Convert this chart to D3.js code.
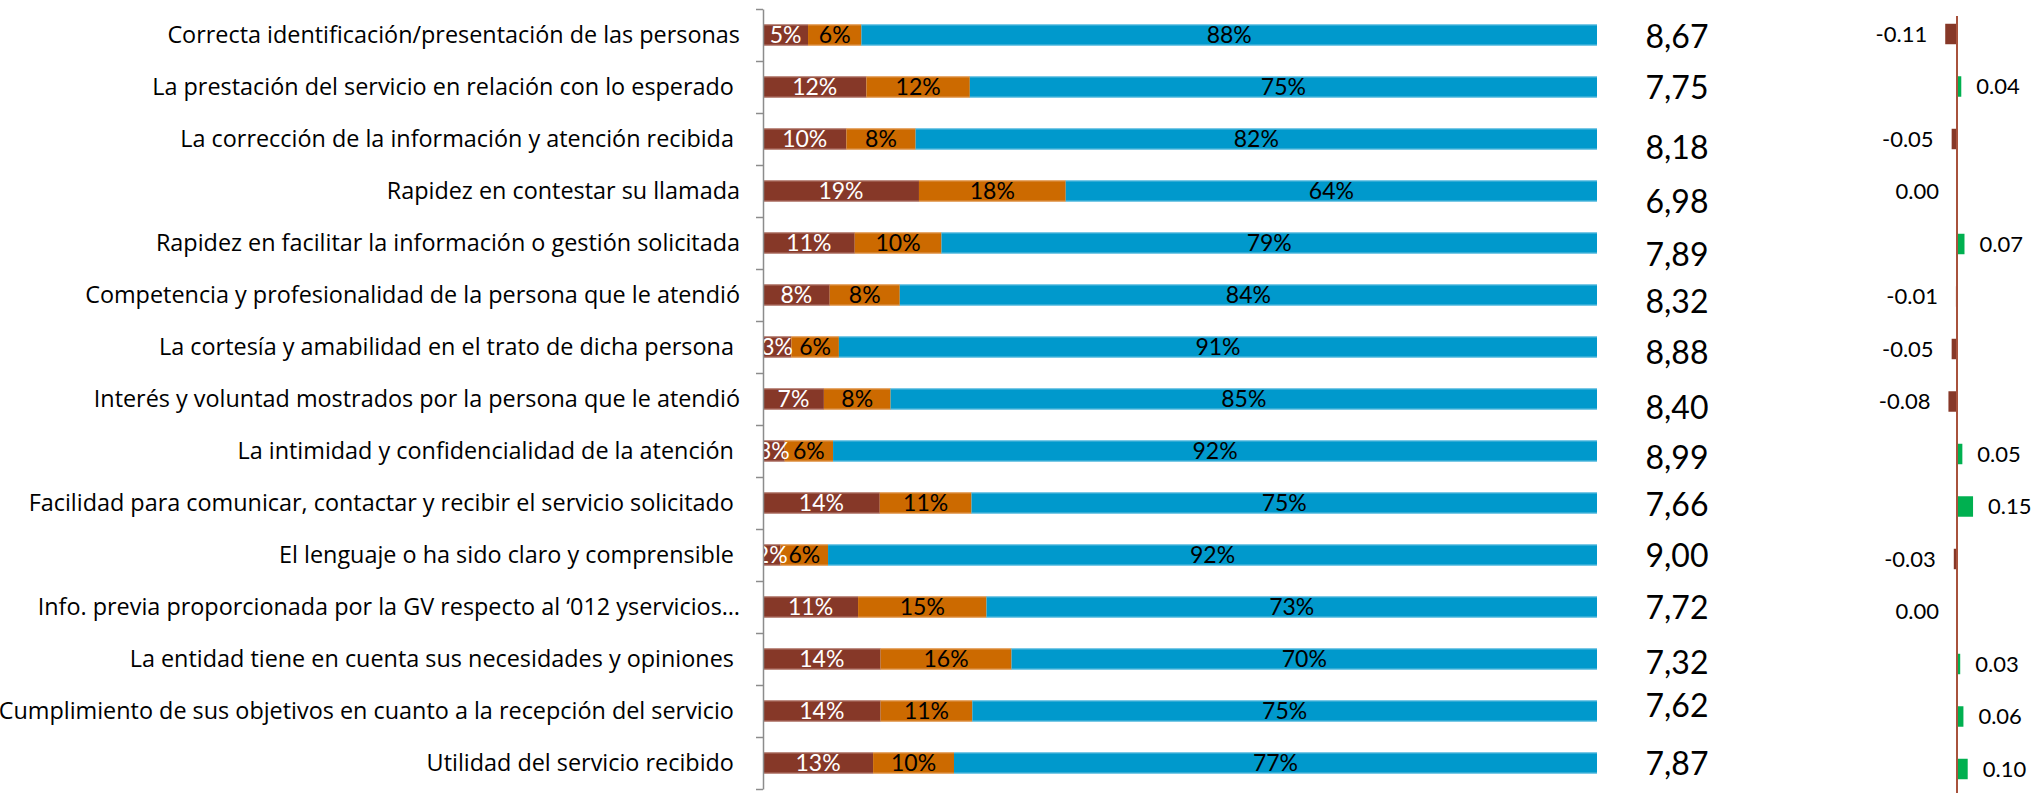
<!DOCTYPE html>
<html>
<head>
<meta charset="utf-8">
<script src="https://cdn.jsdelivr.net/npm/d3@7"></script>
<style>
  html, body { margin: 0; padding: 0; background: #ffffff; }
  svg { display: block; }
  text { font-family: Lato, "Open Sans", sans-serif; white-space: pre; }
  text.cat { font-family: "Open Sans", Lato, sans-serif; }
</style>
</head>
<body>
<svg id="chart" width="2039" height="793"></svg>
<script>
// Service attributes (one row each)
const categories = [
  "Correcta identificación/presentación de las personas",
  "La prestación del servicio en relación con lo esperado ",
  "La corrección de la información y atención recibida ",
  "Rapidez en contestar su llamada",
  "Rapidez en facilitar la información o gestión solicitada",
  "Competencia y profesionalidad de la persona que le atendió",
  "La cortesía y amabilidad en el trato de dicha persona ",
  "Interés y voluntad mostrados por la persona que le atendió",
  "La intimidad y confidencialidad de la atención ",
  "Facilidad para comunicar, contactar y recibir el servicio solicitado ",
  "El lenguaje o ha sido claro y comprensible ",
  "Info. previa proporcionada por la GV respecto al ‘012 yservicios…",
  "La entidad tiene en cuenta sus necesidades y opiniones ",
  "Cumplimiento de sus objetivos en cuanto a la recepción del servicio ",
  "Utilidad del servicio recibido "
];

// Share of answers per rating group (%)
const lowShare  = [5.4, 12.4, 10.0, 18.7, 11.0, 8.0, 3.4, 7.3, 2.6, 14.0, 2.1, 11.4, 14.1, 14.1, 13.2];
const midShare  = [6.4, 12.4,  8.3, 17.6, 10.4, 8.4, 5.7, 8.0, 5.8, 11.0, 5.7, 15.4, 15.7, 11.0,  9.7];
const highShare = [88.2, 75.2, 81.7, 63.7, 78.6, 83.6, 90.9, 84.7, 91.6, 75.0, 92.2, 73.2, 70.2, 74.9, 77.1];

// Mean score (0-10) and change versus previous wave
const meanScore = [8.67, 7.75, 8.18, 6.98, 7.89, 8.32, 8.88, 8.40, 8.99, 7.66, 9.00, 7.72, 7.32, 7.62, 7.87];
const scoreChange = [-0.11, 0.04, -0.05, 0.00, 0.07, -0.01, -0.05, -0.08, 0.05, 0.15, -0.03, 0.00, 0.03, 0.06, 0.10];

// Small vertical offsets of the score column (px)
const scoreShift = [1, 0, 8, 10, 11, 6, 5, 8, 6, 1, 0, 0, 3, -6, 0];

const seriesColors = ["#863828", "#CC6A00", "#0099CC"];
const seriesEdge = ["#c79a90", "#eab07a", "#8fd0ea"];
const labelColors = ["#ffffff", "#000000", "#000000"];

const svg = d3.select("#chart");

const rows = categories.map((c, i) => ({
  name: c, i,
  parts: [lowShare[i], midShare[i], highShare[i]],
  score: meanScore[i], change: scoreChange[i]
}));

// ---- Stacked 100% bars ----
const y = d3.scaleBand().domain(d3.range(categories.length))
  .range([9, 789]).paddingInner(0.59).paddingOuter(0.295);
const x = d3.scaleLinear().domain([0, 100]).range([763, 1597]);

const stack = d3.stack().keys([0, 1, 2]).value((d, k) => d.parts[k]);
const stacked = stack(rows);

svg.append("defs").append("clipPath").attr("id", "plotClip")
  .append("rect").attr("x", 763).attr("y", 0).attr("width", 900).attr("height", 793);

const layers = svg.append("g").selectAll("g").data(stacked).join("g")
  .attr("fill", (d, k) => seriesColors[k]);

layers.selectAll("rect").data(d => d).join("rect")
  .attr("x", d => x(d[0]))
  .attr("y", d => y(d.data.i))
  .attr("width", d => x(d[1]) - x(d[0]))
  .attr("height", y.bandwidth());

// thin light edge along the top and bottom of each bar
layers.each(function(layer, k) {
  const g = d3.select(this);
  ["top", "bottom"].forEach(side => {
    g.selectAll("line." + side).data(layer).join("line")
      .attr("class", side)
      .attr("x1", d => x(d[0]))
      .attr("x2", d => x(d[1]))
      .attr("y1", d => y(d.data.i) + (side === "top" ? 0.5 : y.bandwidth() - 0.5))
      .attr("y2", d => y(d.data.i) + (side === "top" ? 0.5 : y.bandwidth() - 0.5))
      .attr("stroke", seriesEdge[k]).attr("stroke-width", 1);
  });
});

const pctLabels = svg.append("g").attr("clip-path", "url(#plotClip)");
stacked.forEach((layer, k) => {
  pctLabels.selectAll(null).data(layer).join("text")
    .attr("x", d => (x(d[0]) + x(d[1])) / 2)
    .attr("y", d => y(d.data.i) + y.bandwidth() / 2)
    .attr("dy", "0.36em")
    .attr("text-anchor", "middle")
    .attr("font-size", 23)
    .attr("fill", labelColors[k])
    .text(d => Math.round(d[1] - d[0]) + "%");
});

// category axis with ticks between rows
const yEdge = d3.scaleLinear().domain([0, categories.length]).range([9, 789]);
const axis = svg.append("g").attr("transform", "translate(763,0)")
  .call(d3.axisLeft(yEdge).tickValues(d3.range(categories.length + 1))
    .tickSize(7).tickSizeOuter(0).tickFormat(""));
axis.selectAll("path, line").attr("stroke", "#8c8c8c").attr("stroke-width", 1.5);

svg.append("g").selectAll("text").data(rows).join("text")
  .attr("class", "cat")
  .attr("x", 740)
  .attr("y", d => y(d.i) + y.bandwidth() / 2)
  .attr("dy", "0.36em")
  .attr("text-anchor", "end")
  .attr("font-size", 23.4)
  .attr("fill", "#000")
  .text(d => d.name);

// ---- Mean score column ----
const esLocale = d3.formatLocale({decimal: ",", thousands: ".", grouping: [3], currency: ["", " €"]});
const fmtScore = esLocale.format(".2f");
svg.append("g").selectAll("text").data(rows).join("text")
  .attr("x", 1677)
  .attr("y", d => y(d.i) + y.bandwidth() / 2 + scoreShift[d.i])
  .attr("dy", "0.36em")
  .attr("text-anchor", "middle")
  .attr("font-size", 32)
  .attr("fill", "#000")
  .text(d => fmtScore(d.score));

// ---- Change versus previous wave ----
const y2 = d3.scaleBand().domain(d3.range(categories.length))
  .range([7.75, 795.25]).paddingInner(0.61).paddingOuter(0.305);
const x2 = d3.scaleLinear().domain([-0.2, 0.2]).range([1957 - 21.4, 1957 + 21.4]);
const fmtChange = d3.formatLocale({decimal: ".", thousands: ",", grouping: [3], currency: ["", ""], minus: "-"}).format(".2f");

svg.append("g").selectAll("rect").data(rows).join("rect")
  .attr("x", d => x2(Math.min(0, d.change)))
  .attr("y", d => y2(d.i))
  .attr("width", d => Math.abs(x2(d.change) - x2(0)))
  .attr("height", y2.bandwidth())
  .attr("fill", d => d.change < 0 ? "#863828" : "#00B050");

svg.append("line")
  .attr("x1", x2(0)).attr("x2", x2(0))
  .attr("y1", 16).attr("y2", 793)
  .attr("stroke", "#a8523c").attr("stroke-width", 2);

svg.append("g").selectAll("text").data(rows).join("text")
  .attr("x", d => d.change > 0 ? x2(d.change) + 15 : x2(Math.min(0, d.change)) - 18)
  .attr("y", d => y2(d.i) + y2.bandwidth() / 2)
  .attr("dy", "0.36em")
  .attr("text-anchor", d => d.change > 0 ? "start" : "end")
  .attr("font-size", 22)
  .attr("fill", "#000")
  .text(d => fmtChange(d.change));
</script>
</body>
</html>
